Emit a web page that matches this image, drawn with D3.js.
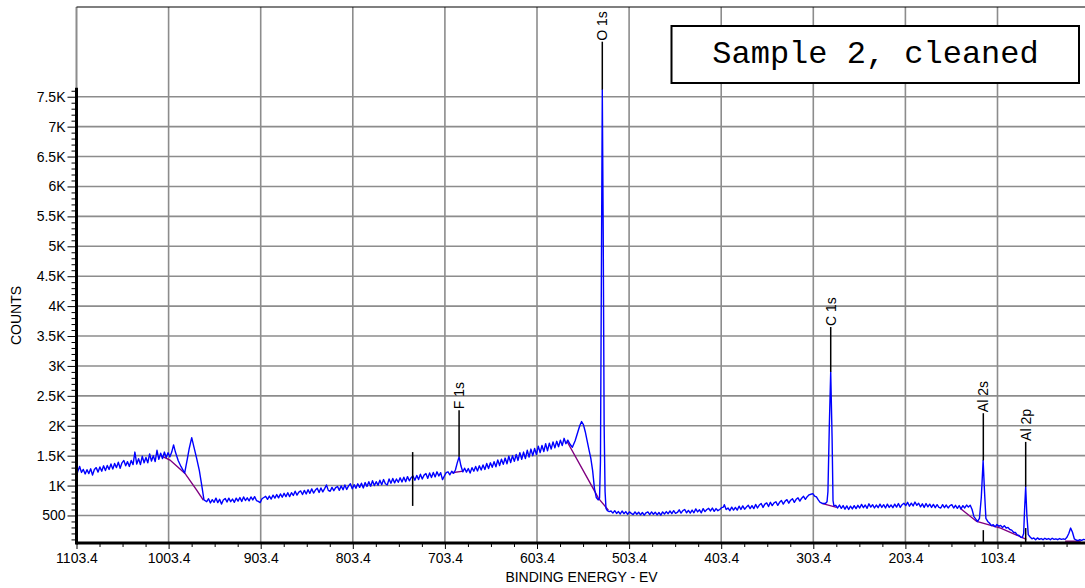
<!DOCTYPE html>
<html>
<head>
<meta charset="utf-8">
<script src="https://cdn.jsdelivr.net/npm/d3@7"></script>
<style>
  body { margin: 0; background: #fff; }
  svg { display: block; font-family: "Liberation Sans", Arial, sans-serif; }
</style>
</head>
<body>
<div id="chart"></div>
<script>
// XPS survey spectrum, sample 2 after cleaning
// [binding energy (eV), counts]
const spectrum = [
  [1103.4,1160],[1102,1240],[1100,1320],[1098,1220],[1096,1270],[1094,1195],[1092,1265],[1090,1200],
  [1088,1280],[1086,1175],[1084,1270],[1082,1300],[1080,1225],[1078,1310],[1076,1240],[1074,1330],
  [1072,1250],[1070,1335],[1068,1270],[1066,1360],[1064,1275],[1062,1370],[1060,1300],[1058,1390],
  [1056,1290],[1054,1380],[1052,1420],[1050,1330],[1048,1400],[1046,1320],[1044,1420],[1042,1350],
  [1040,1560],[1038,1360],[1036,1450],[1034,1350],[1032,1490],[1030,1380],[1028,1470],[1026,1380],
  [1024,1530],[1022,1410],[1020,1500],[1018,1400],[1016,1590],[1014,1440],[1012,1540],[1010,1450],
  [1008,1560],[1006,1470],[1004,1550],[1002,1480],[1000,1560],[998,1680],[996,1560],[993,1420],
  [990,1320],[986,1210],[983,1450],[981,1620],[978.3,1800],[976,1650],[973,1460],[970,1250],
  [967.5,1010],[965,760],[962,730],[960,780],[958,710],[956,765],[954,720],[952,790],[950,715],
  [948,770],[946,690],[944,760],[942,785],[940,725],[938,790],[936,730],[934,775],[932,720],[930,790],
  [928,740],[926,800],[924,735],[922,810],[920,750],[918,795],[916,745],[914,810],[912,760],[910,815],
  [908,750],[906,735],[904,715],[902,780],[900,800],[898,820],[896,770],[894,825],[892,775],[890,840],
  [888,790],[886,850],[884,795],[882,860],[880,805],[878,870],[876,815],[874,880],[872,815],[870,880],
  [868,835],[866,905],[864,840],[862,890],[860,910],[858,850],[856,920],[854,860],[852,930],[850,870],
  [848,945],[846,875],[844,925],[842,955],[840,885],[838,960],[836,895],[834,950],[832,1010],[830,920],
  [828,905],[826,970],[824,915],[822,965],[820,985],[818,920],[816,995],[814,930],[812,1010],[810,935],
  [808,995],[806,1030],[804,945],[802,1015],[800,955],[798,1030],[796,970],[794,1040],[792,960],
  [790,1050],[788,985],[786,1065],[784,990],[782,1080],[780,1000],[778,1065],[776,1005],[774,1090],
  [772,1015],[770,1100],[768,1030],[766,1010],[764,1110],[762,1040],[760,1120],[758,1045],[756,1110],
  [754,1055],[752,1130],[750,1060],[748,1140],[746,1065],[744,1150],[742,1080],[740,1135],[738,1160],
  [736,1090],[734,1170],[732,1100],[730,1190],[728,1110],[726,1175],[724,1200],[722,1120],[720,1210],
  [718,1135],[716,1220],[714,1145],[712,1230],[710,1160],[708,1215],[706,1100],[704,1160],[702,1215],
  [700,1230],[698,1180],[696,1240],[694,1205],[692,1260],[690,1380],[688,1480],[686,1330],[684,1230],
  [682,1290],[680,1225],[678,1285],[676,1210],[674,1300],[672,1240],[670,1320],[668,1245],[666,1330],
  [664,1260],[662,1345],[660,1270],[658,1370],[656,1285],[654,1380],[652,1305],[650,1400],[648,1315],
  [646,1430],[644,1335],[642,1440],[640,1355],[638,1460],[636,1365],[634,1490],[632,1385],[630,1500],
  [628,1405],[626,1520],[624,1420],[622,1550],[620,1440],[618,1560],[616,1450],[614,1590],[612,1475],
  [610,1610],[608,1500],[606,1620],[604,1520],[602,1660],[600,1550],[598,1670],[596,1570],[594,1700],
  [592,1580],[590,1710],[588,1610],[586,1730],[584,1630],[582,1740],[580,1650],[578,1760],[576,1670],
  [574,1790],[572,1700],[570,1760],[567.5,1690],[565,1640],[562,1750],[559,1900],[557,2000],[555,2070],
  [553,2020],[551,1900],[549,1750],[547,1600],[545,1460],[543,1250],[541,950],[539,800],[537,760],
  [535.5,790],[534.5,1400],[533.5,4500],[532.5,7620],[531.5,5200],[530.5,2000],[529.5,900],[528.5,620],
  [527,580],[525,565],[523,575],[521,540],[519,580],[517,535],[515,565],[513,525],[511,575],[509,530],
  [507,565],[505,520],[503,560],[501,535],[499,515],[497,560],[495,520],[493,555],[491,510],[489,550],
  [487,505],[485,545],[483,560],[481,515],[479,560],[477,520],[475,555],[473,510],[471,550],[469,505],
  [467,560],[465,525],[463,565],[461,530],[459,575],[457,530],[455,580],[453,535],[451,550],[449,595],
  [447,540],[445,580],[443,600],[441,545],[439,585],[437,540],[435,590],[433,545],[431,610],[429,560],
  [427,595],[425,545],[423,615],[421,565],[419,600],[417,620],[415,575],[413,625],[411,570],[409,615],
  [407,580],[405,600],[403,630],[401,640],[400,680],[398,600],[396,625],[394,580],[392,640],[390,590],
  [388,635],[386,590],[384,655],[382,600],[380,660],[378,605],[376,640],[374,670],[372,615],[370,665],
  [368,615],[366,685],[364,625],[362,675],[360,700],[358,635],[356,690],[354,710],[352,650],[350,720],
  [348,665],[346,710],[344,730],[342,670],[340,720],[338,750],[336,690],[334,740],[332,765],[330,705],
  [328,755],[326,780],[324,720],[322,770],[320,795],[318,740],[316,790],[314,820],[312,770],[310,815],
  [308,845],[306,855],[304,865],[302,825],[300,810],[298,760],[296,720],[294,705],[292,700],[290,705],
  [288.5,730],[287.5,900],[286,2000],[284.5,2900],[283,1800],[282,750],[281,660],[279,670],[277,625],
  [275,675],[273,620],[271,665],[269,605],[267,660],[265,600],[263,655],[261,610],[259,665],[257,615],
  [255,670],[253,625],[251,685],[249,630],[247,675],[245,620],[243,695],[241,640],[239,680],[237,625],
  [235,675],[233,630],[231,690],[229,635],[227,680],[225,625],[223,690],[221,635],[219,675],[217,630],
  [215,690],[213,640],[211,700],[209,635],[207,680],[205,705],[203,665],[201,720],[199,655],[197,705],
  [195,660],[193,725],[191,670],[189,705],[187,645],[185,695],[183,635],[181,700],[179,645],[177,690],
  [175,635],[173,685],[171,630],[169,680],[167,635],[165,625],[163,680],[161,630],[159,675],[157,625],
  [155,665],[153,680],[151,625],[149,670],[147,620],[145,665],[143,610],[141,665],[139,625],[137,675],
  [135,640],[133,670],[131,600],[129,480],[127,440],[125,400],[123,450],[121,800],[119,1420],[117.5,900],
  [116,450],[114,400],[112,370],[110,330],[108,345],[106,310],[104,350],[102,320],[100,335],[98,300],
  [96,330],[94,290],[92,300],[90,265],[88,255],[86,220],[84,215],[82,175],[80,165],[78,135],[76.5,130],
  [75,200],[74,600],[72.8,980],[71.5,500],[70,180],[68,140],[66,110],[64,125],[62,95],[60,125],
  [58,100],[56,115],[54,95],[52,120],[50,100],[48,115],[46,95],[44,120],[42,100],[40,110],[38,95],
  [36,115],[34,100],[32,110],[30,100],[28,135],[26,200],[24,290],[22,220],[20,110],[18,90],[16,80],
  [14,95],[12,85],[10,100],[8,95],[6,90]
];

// fitted backgrounds under the peaks
const bgOKLL = [[1010.9,1493],[1001.9,1426],[985.6,1204],[972.9,925],[965.7,757]];
const bgF1s = [[696,1214],[683.4,1242]];
const bgO1s = [[570.6,1732],[540.4,896],[536.8,790],[525.9,590]];
const bgC1s = [[294.3,702],[278,635]];
const bgAl = [[144,620],[126,400],[100,290],[72,100]];
const bgTail = [[30,70],[13,70]];

// peak identifications: label, energy, count at top of marker, count at peak
const peakLabels = ["O 1s", "F 1s", "C 1s", "Al 2s", "Al 2p"];
const peakEnergies = [532.5, 688, 284.5, 118.8, 72.8];
const peakMarkTop = [8420, 2260, 3650, 2210, 1730];
const peakTops = [7620, 1480, 2900, 1420, 980];

// other marker segments: [energy, low count, high count]
const cursors = [[738.4, 660, 1560], [118.8, 40, 255], [72.8, 40, 290]];

const xMajor = [1103.4, 1003.4, 903.4, 803.4, 703.4, 603.4, 503.4, 403.4, 303.4, 203.4, 103.4];
const xMinor = d3.range(1078.4, 0, -25).filter(v => Math.abs((1103.4 - v) % 100) > 1);
const yMajor = [500, 1000, 1500, 2000, 2500, 3000, 3500, 4000, 4500, 5000, 5500, 6000, 6500, 7000, 7500];
const yMinor = d3.range(100, 7700, 100).filter(v => v % 500 !== 0);

const title = "Sample 2, cleaned";

const width = 1085, height = 588;
const plotLeft = 76.5, plotTop = 7, plotBottom = 543;

const svg = d3.select("#chart").append("svg")
    .attr("width", width)
    .attr("height", height);

const x = d3.scaleLinear().domain([1103.4, 3.4]).range([plotLeft, plotLeft + 1100 * 0.921]);
const y = d3.scaleLinear().domain([40, 9000]).range([plotBottom, plotTop]);

svg.append("clipPath").attr("id", "plot")
    .append("rect").attr("x", plotLeft).attr("y", plotTop)
    .attr("width", width - plotLeft).attr("height", plotBottom - plotTop);

// grid
const grid = svg.append("g").attr("stroke", "#8c8c8c").attr("stroke-width", 1.6);
grid.selectAll("line.v").data(xMajor).enter().append("line")
    .attr("x1", d => x(d)).attr("x2", d => x(d))
    .attr("y1", plotTop).attr("y2", plotBottom);
grid.selectAll("line.h").data(yMajor).enter().append("line")
    .attr("x1", plotLeft).attr("x2", width)
    .attr("y1", d => y(d)).attr("y2", d => y(d));
// left border above the data range
grid.append("line").attr("x1", plotLeft).attr("x2", plotLeft).attr("y1", plotTop).attr("y2", y(7650));

// top frame
svg.append("line").attr("x1", plotLeft).attr("x2", width).attr("y1", plotTop).attr("y2", plotTop)
    .attr("stroke", "#000").attr("stroke-width", 1.2);

// title box
const box = svg.append("g");
box.append("rect").attr("x", 671.5).attr("y", 26).attr("width", 407.5).attr("height", 57)
    .attr("fill", "#fff").attr("stroke", "#000").attr("stroke-width", 2);
box.append("text").attr("x", 875.5).attr("y", 63)
    .attr("text-anchor", "middle")
    .style("font-family", "'Courier New', 'Liberation Mono', monospace")
    .style("font-size", "32px")
    .text(title);

// spectrum and backgrounds
const plot = svg.append("g").attr("clip-path", "url(#plot)");
const line = d3.line().x(d => x(d[0])).y(d => y(d[1]));

[bgOKLL, bgF1s, bgO1s, bgC1s, bgAl, bgTail].forEach(bg => {
    plot.append("path").datum(bg).attr("d", line)
        .attr("fill", "none").attr("stroke", "#800080").attr("stroke-width", 1.4);
});

plot.append("path").datum(spectrum).attr("d", line)
    .attr("fill", "none").attr("stroke", "#0000ff").attr("stroke-width", 1.4)
    .attr("stroke-linejoin", "round");

// peak markers
const marks = svg.append("g");
peakLabels.forEach((lab, i) => {
    const px = x(peakEnergies[i]);
    marks.append("line")
        .attr("x1", px).attr("x2", px)
        .attr("y1", y(peakMarkTop[i])).attr("y2", y(peakTops[i]))
        .attr("stroke", "#000").attr("stroke-width", 1.5);
    marks.append("text")
        .attr("transform", `translate(${px},${y(peakMarkTop[i]) - 1}) rotate(-90)`)
        .attr("dy", "0.36em")
        .style("font-size", "14px")
        .text(lab);
});
cursors.forEach(c => {
    marks.append("line")
        .attr("x1", x(c[0])).attr("x2", x(c[0]))
        .attr("y1", y(c[1])).attr("y2", y(c[2]))
        .attr("stroke", "#000").attr("stroke-width", 1.5);
});

// axes
svg.append("g").attr("transform", `translate(0,${plotBottom})`)
    .call(d3.axisBottom(x).tickValues(xMajor).tickFormat(d => d.toFixed(1)).tickSize(6).tickPadding(4));
svg.append("g").attr("transform", `translate(0,${plotBottom})`)
    .call(d3.axisBottom(x).tickValues(xMinor).tickFormat("").tickSize(4));
svg.append("g").attr("transform", `translate(${plotLeft},0)`)
    .call(d3.axisLeft(y).tickValues(yMajor)
        .tickFormat(d => d < 1000 ? d : (d / 1000) + "K").tickSize(9).tickPadding(2));
svg.append("g").attr("transform", `translate(${plotLeft},0)`)
    .call(d3.axisLeft(y).tickValues(yMinor).tickFormat("").tickSize(5));

svg.selectAll(".domain").remove();
svg.selectAll(".tick line").attr("stroke", "#000");
svg.selectAll(".tick text").style("font-size", "14px")
    .style("font-family", "'Liberation Sans', Arial, sans-serif").attr("fill", "#000");

// thick axis lines
svg.append("line").attr("x1", plotLeft).attr("x2", width).attr("y1", plotBottom).attr("y2", plotBottom)
    .attr("stroke", "#000").attr("stroke-width", 3);
svg.append("line").attr("x1", plotLeft).attr("x2", plotLeft).attr("y1", y(7650)).attr("y2", plotBottom + 1.5)
    .attr("stroke", "#000").attr("stroke-width", 3);

// axis titles
svg.append("text").attr("x", 581.5).attr("y", 582)
    .attr("text-anchor", "middle").style("font-size", "14px")
    .text("BINDING ENERGY  - EV");
svg.append("text").attr("transform", "translate(21,315.5) rotate(-90)")
    .attr("text-anchor", "middle").style("font-size", "14px")
    .text("COUNTS");
</script>
</body>
</html>
